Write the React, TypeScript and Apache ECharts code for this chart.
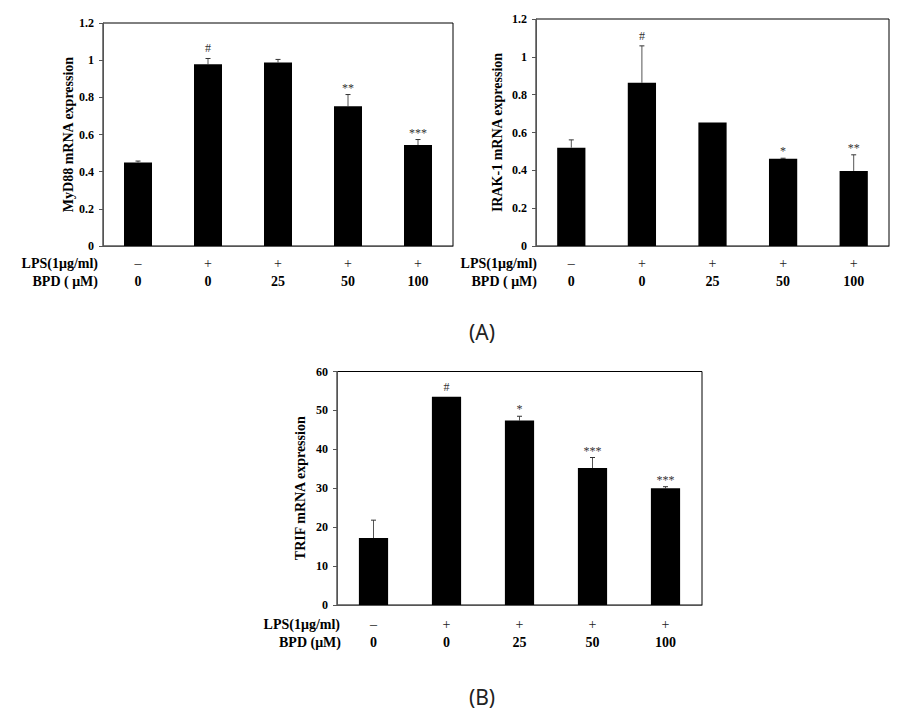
import React, { useEffect, useRef } from "react";
import * as echarts from "echarts";

const groups = ["Control", "LPS", "LPS+BPD25", "LPS+BPD50", "LPS+BPD100"];
const lpsLabels = ["–", "+", "+", "+", "+"];
const bpdLabels = ["0", "0", "25", "50", "100"];

const myd88 = [0.45, 0.978, 0.988, 0.752, 0.543];
const myd88Err = [0.007, 0.031, 0.016, 0.063, 0.03];
const myd88Sig = ["", "#", "", "**", "***"];

const irak1 = [0.52, 0.863, 0.653, 0.461, 0.397];
const irak1Err = [0.041, 0.195, 0, 0.003, 0.085];
const irak1Sig = ["", "#", "", "*", "**"];

const trif = [17.2, 53.5, 47.4, 35.2, 30.0];
const trifErr = [4.6, 0, 1.1, 2.7, 0.4];
const trifSig = ["", "#", "*", "***", "***"];

const yTicksMRNA = { min: 0, max: 1.2, interval: 0.2 };
const yTicksTRIF = { min: 0, max: 60, interval: 10 };

const SERIF = "'Liberation Serif', 'Times New Roman', serif";

function xAxisFor(gridIndex: number, margin: number) {
  return {
    type: "category",
    gridIndex,
    data: groups,
    axisLine: { lineStyle: { color: "#555", width: 1 } },
    axisTick: { inside: true, length: 4, lineStyle: { color: "#555" } },
    axisLabel: {
      margin,
      interval: 0,
      formatter: (_v: string, idx: number) => `{a|${lpsLabels[idx]}}\n{b|${bpdLabels[idx]}}`,
      rich: {
        a: { fontFamily: SERIF, fontSize: 14, fontWeight: "normal", color: "#222", lineHeight: 18 },
        b: { fontFamily: SERIF, fontSize: 14, fontWeight: "bold", color: "#000", lineHeight: 18 },
      },
    },
  };
}

function yAxisFor(gridIndex: number, ticks: any, name: string, nameGap: number) {
  return {
    type: "value",
    gridIndex,
    min: ticks.min,
    max: ticks.max,
    interval: ticks.interval,
    name,
    nameLocation: "middle",
    nameRotate: 90,
    nameGap,
    nameTextStyle: { fontFamily: SERIF, fontSize: 14, fontWeight: "bold", color: "#000" },
    splitLine: { show: false },
    axisLine: { show: true, lineStyle: { color: "#555", width: 1 } },
    axisTick: { show: true, inside: false, length: 4, lineStyle: { color: "#555" } },
    axisLabel: { margin: 9, fontFamily: SERIF, fontSize: 12, fontWeight: "bold", color: "#000" },
  };
}

function barSeries(idx: number, values: number[]) {
  return {
    type: "bar",
    xAxisIndex: idx,
    yAxisIndex: idx,
    data: values,
    barWidth: "40%",
    itemStyle: { color: "#000" },
    silent: true,
  };
}

function errSeries(idx: number, values: number[], errs: number[], sigs: string[]) {
  return {
    type: "custom",
    xAxisIndex: idx,
    yAxisIndex: idx,
    silent: true,
    data: values.map((v, i) => [i, v, errs[i]]),
    renderItem: (params: any, api: any) => {
      const i = api.value(0);
      const v = api.value(1);
      const e = api.value(2);
      const base = api.coord([i, v]);
      const top = api.coord([i, v + e]);
      const children: any[] = [];
      if (e > 0) {
        children.push({
          type: "line",
          shape: { x1: base[0], y1: base[1], x2: top[0], y2: top[1] },
          style: { stroke: "#555", lineWidth: 1 },
        });
        children.push({
          type: "line",
          shape: { x1: top[0] - 2.5, y1: top[1], x2: top[0] + 2.5, y2: top[1] },
          style: { stroke: "#333", lineWidth: 1 },
        });
      }
      const s = sigs[params.dataIndex];
      if (s) {
        children.push({
          type: "text",
          style: {
            text: s,
            x: top[0],
            y: top[1] - (s === "#" ? 4 : 1),
            align: "center",
            verticalAlign: "bottom",
            fontFamily: SERIF,
            fontSize: 12,
            fill: "#333",
          },
        });
      }
      return { type: "group", children };
    },
  };
}

function rowLabel(text: string, right: number, y: number) {
  return {
    type: "text",
    x: right,
    y,
    style: {
      text,
      align: "right",
      verticalAlign: "middle",
      fontFamily: SERIF,
      fontSize: 14,
      fontWeight: "bold",
      fill: "#000",
    },
  };
}

export default function App() {
  const ref = useRef<HTMLDivElement>(null);
  useEffect(() => {
    if (!ref.current) return;
    const chart = echarts.init(ref.current, undefined, { renderer: "svg" });
    const gridStyle = { show: true, borderColor: "#000", borderWidth: 1, backgroundColor: "transparent" };
    chart.setOption({
      animation: false,
      backgroundColor: "#fff",
      grid: [
        { left: 103, top: 23, width: 350, height: 223, ...gridStyle },
        { left: 536, top: 19, width: 353, height: 227, ...gridStyle },
        { left: 337, top: 371.5, width: 365, height: 233.5, ...gridStyle },
      ],
      xAxis: [xAxisFor(0, 8), xAxisFor(1, 8), xAxisFor(2, 10)],
      yAxis: [
        yAxisFor(0, yTicksMRNA, "MyD88 mRNA expression", 28),
        yAxisFor(1, yTicksMRNA, "IRAK-1 mRNA expression", 32),
        yAxisFor(2, yTicksTRIF, "TRIF mRNA expression", 30),
      ],
      series: [
        barSeries(0, myd88),
        errSeries(0, myd88, myd88Err, myd88Sig),
        barSeries(1, irak1),
        errSeries(1, irak1, irak1Err, irak1Sig),
        barSeries(2, trif),
        errSeries(2, trif, trifErr, trifSig),
      ],
      graphic: [
        rowLabel("LPS(1μg/ml)", 98, 263),
        rowLabel("BPD ( μM)", 98, 281),
        rowLabel("LPS(1μg/ml)", 537, 263),
        rowLabel("BPD ( μM)", 537, 281),
        rowLabel("LPS(1μg/ml)", 340, 624),
        rowLabel("BPD (μM)", 341, 642),
        {
          type: "text",
          x: 482,
          y: 332,
          style: { text: "(A)", align: "center", verticalAlign: "middle", fontFamily: "'Noto Sans', sans-serif", fontSize: 21, fill: "#222" },
        },
        {
          type: "text",
          x: 482,
          y: 697,
          style: { text: "(B)", align: "center", verticalAlign: "middle", fontFamily: "'Noto Sans', sans-serif", fontSize: 21, fill: "#222" },
        },
      ],
    });
    return () => chart.dispose();
  }, []);
  return <div ref={ref} style={{ position: "absolute", left: 0, top: 0, width: 909, height: 720 }} />;
}
